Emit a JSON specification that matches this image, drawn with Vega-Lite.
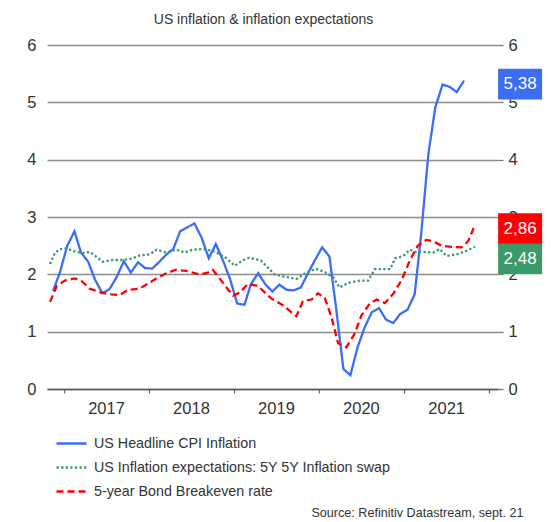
{
  "$schema": "https://vega.github.io/schema/vega-lite/v6.json",
  "width": 451,
  "height": 344,
  "autosize": {"type": "none"},
  "padding": {"left": 47, "top": 45, "right": 62, "bottom": 133},
  "background": "white",
  "config": {"view": {"stroke": null}},
  "title": {
    "text": "US inflation & inflation expectations",
    "font": "Liberation Sans",
    "fontSize": 14,
    "fontWeight": "normal",
    "color": "#333333",
    "anchor": "middle",
    "frame": "group",
    "offset": 10,
    "dx": -9
  },
  "datasets": {
    "series": [
      {"series": "US Headline CPI Inflation", "date": "2016-11-15", "value": 1.71},
      {"series": "US Headline CPI Inflation", "date": "2016-12-15", "value": 2.04},
      {"series": "US Headline CPI Inflation", "date": "2017-01-15", "value": 2.50},
      {"series": "US Headline CPI Inflation", "date": "2017-02-15", "value": 2.75},
      {"series": "US Headline CPI Inflation", "date": "2017-03-15", "value": 2.38},
      {"series": "US Headline CPI Inflation", "date": "2017-04-15", "value": 2.22},
      {"series": "US Headline CPI Inflation", "date": "2017-05-15", "value": 1.90},
      {"series": "US Headline CPI Inflation", "date": "2017-06-15", "value": 1.67},
      {"series": "US Headline CPI Inflation", "date": "2017-07-15", "value": 1.74},
      {"series": "US Headline CPI Inflation", "date": "2017-08-15", "value": 1.95},
      {"series": "US Headline CPI Inflation", "date": "2017-09-15", "value": 2.23},
      {"series": "US Headline CPI Inflation", "date": "2017-10-15", "value": 2.03},
      {"series": "US Headline CPI Inflation", "date": "2017-11-15", "value": 2.21},
      {"series": "US Headline CPI Inflation", "date": "2017-12-15", "value": 2.11},
      {"series": "US Headline CPI Inflation", "date": "2018-01-15", "value": 2.10},
      {"series": "US Headline CPI Inflation", "date": "2018-02-15", "value": 2.22},
      {"series": "US Headline CPI Inflation", "date": "2018-03-15", "value": 2.34},
      {"series": "US Headline CPI Inflation", "date": "2018-04-15", "value": 2.44},
      {"series": "US Headline CPI Inflation", "date": "2018-05-15", "value": 2.75},
      {"series": "US Headline CPI Inflation", "date": "2018-06-15", "value": 2.82},
      {"series": "US Headline CPI Inflation", "date": "2018-07-15", "value": 2.89},
      {"series": "US Headline CPI Inflation", "date": "2018-08-15", "value": 2.64},
      {"series": "US Headline CPI Inflation", "date": "2018-09-15", "value": 2.28},
      {"series": "US Headline CPI Inflation", "date": "2018-10-15", "value": 2.53},
      {"series": "US Headline CPI Inflation", "date": "2018-11-15", "value": 2.24},
      {"series": "US Headline CPI Inflation", "date": "2018-12-15", "value": 1.92},
      {"series": "US Headline CPI Inflation", "date": "2019-01-15", "value": 1.49},
      {"series": "US Headline CPI Inflation", "date": "2019-02-15", "value": 1.47},
      {"series": "US Headline CPI Inflation", "date": "2019-03-15", "value": 1.83},
      {"series": "US Headline CPI Inflation", "date": "2019-04-15", "value": 2.02},
      {"series": "US Headline CPI Inflation", "date": "2019-05-15", "value": 1.83},
      {"series": "US Headline CPI Inflation", "date": "2019-06-15", "value": 1.70},
      {"series": "US Headline CPI Inflation", "date": "2019-07-15", "value": 1.82},
      {"series": "US Headline CPI Inflation", "date": "2019-08-15", "value": 1.73},
      {"series": "US Headline CPI Inflation", "date": "2019-09-15", "value": 1.72},
      {"series": "US Headline CPI Inflation", "date": "2019-10-15", "value": 1.77},
      {"series": "US Headline CPI Inflation", "date": "2019-11-15", "value": 2.02},
      {"series": "US Headline CPI Inflation", "date": "2019-12-15", "value": 2.25},
      {"series": "US Headline CPI Inflation", "date": "2020-01-15", "value": 2.47},
      {"series": "US Headline CPI Inflation", "date": "2020-02-15", "value": 2.31},
      {"series": "US Headline CPI Inflation", "date": "2020-03-15", "value": 1.40},
      {"series": "US Headline CPI Inflation", "date": "2020-04-15", "value": 0.35},
      {"series": "US Headline CPI Inflation", "date": "2020-05-15", "value": 0.24},
      {"series": "US Headline CPI Inflation", "date": "2020-06-15", "value": 0.73},
      {"series": "US Headline CPI Inflation", "date": "2020-07-15", "value": 1.07},
      {"series": "US Headline CPI Inflation", "date": "2020-08-15", "value": 1.34},
      {"series": "US Headline CPI Inflation", "date": "2020-09-15", "value": 1.41},
      {"series": "US Headline CPI Inflation", "date": "2020-10-15", "value": 1.21},
      {"series": "US Headline CPI Inflation", "date": "2020-11-15", "value": 1.15},
      {"series": "US Headline CPI Inflation", "date": "2020-12-15", "value": 1.31},
      {"series": "US Headline CPI Inflation", "date": "2021-01-15", "value": 1.38},
      {"series": "US Headline CPI Inflation", "date": "2021-02-15", "value": 1.65},
      {"series": "US Headline CPI Inflation", "date": "2021-03-15", "value": 2.70},
      {"series": "US Headline CPI Inflation", "date": "2021-04-15", "value": 4.10},
      {"series": "US Headline CPI Inflation", "date": "2021-05-15", "value": 4.92},
      {"series": "US Headline CPI Inflation", "date": "2021-06-15", "value": 5.31},
      {"series": "US Headline CPI Inflation", "date": "2021-07-15", "value": 5.27},
      {"series": "US Headline CPI Inflation", "date": "2021-08-15", "value": 5.18},
      {"series": "US Headline CPI Inflation", "date": "2021-09-15", "value": 5.38},

      {"series": "US Inflation expectations: 5Y 5Y Inflation swap", "date": "2016-11-02", "value": 2.18},
      {"series": "US Inflation expectations: 5Y 5Y Inflation swap", "date": "2016-11-23", "value": 2.37},
      {"series": "US Inflation expectations: 5Y 5Y Inflation swap", "date": "2016-12-14", "value": 2.44},
      {"series": "US Inflation expectations: 5Y 5Y Inflation swap", "date": "2017-01-12", "value": 2.45},
      {"series": "US Inflation expectations: 5Y 5Y Inflation swap", "date": "2017-02-24", "value": 2.39},
      {"series": "US Inflation expectations: 5Y 5Y Inflation swap", "date": "2017-03-23", "value": 2.37},
      {"series": "US Inflation expectations: 5Y 5Y Inflation swap", "date": "2017-04-21", "value": 2.39},
      {"series": "US Inflation expectations: 5Y 5Y Inflation swap", "date": "2017-05-19", "value": 2.31},
      {"series": "US Inflation expectations: 5Y 5Y Inflation swap", "date": "2017-06-17", "value": 2.22},
      {"series": "US Inflation expectations: 5Y 5Y Inflation swap", "date": "2017-07-30", "value": 2.25},
      {"series": "US Inflation expectations: 5Y 5Y Inflation swap", "date": "2017-09-12", "value": 2.25},
      {"series": "US Inflation expectations: 5Y 5Y Inflation swap", "date": "2017-10-24", "value": 2.28},
      {"series": "US Inflation expectations: 5Y 5Y Inflation swap", "date": "2017-11-22", "value": 2.33},
      {"series": "US Inflation expectations: 5Y 5Y Inflation swap", "date": "2018-01-05", "value": 2.35},
      {"series": "US Inflation expectations: 5Y 5Y Inflation swap", "date": "2018-02-03", "value": 2.43},
      {"series": "US Inflation expectations: 5Y 5Y Inflation swap", "date": "2018-03-16", "value": 2.38},
      {"series": "US Inflation expectations: 5Y 5Y Inflation swap", "date": "2018-04-28", "value": 2.43},
      {"series": "US Inflation expectations: 5Y 5Y Inflation swap", "date": "2018-06-03", "value": 2.38},
      {"series": "US Inflation expectations: 5Y 5Y Inflation swap", "date": "2018-07-08", "value": 2.43},
      {"series": "US Inflation expectations: 5Y 5Y Inflation swap", "date": "2018-08-21", "value": 2.44},
      {"series": "US Inflation expectations: 5Y 5Y Inflation swap", "date": "2018-10-02", "value": 2.41},
      {"series": "US Inflation expectations: 5Y 5Y Inflation swap", "date": "2018-10-31", "value": 2.35},
      {"series": "US Inflation expectations: 5Y 5Y Inflation swap", "date": "2018-11-30", "value": 2.28},
      {"series": "US Inflation expectations: 5Y 5Y Inflation swap", "date": "2019-01-05", "value": 2.15},
      {"series": "US Inflation expectations: 5Y 5Y Inflation swap", "date": "2019-02-10", "value": 2.25},
      {"series": "US Inflation expectations: 5Y 5Y Inflation swap", "date": "2019-03-08", "value": 2.29},
      {"series": "US Inflation expectations: 5Y 5Y Inflation swap", "date": "2019-04-27", "value": 2.24},
      {"series": "US Inflation expectations: 5Y 5Y Inflation swap", "date": "2019-06-24", "value": 2.00},
      {"series": "US Inflation expectations: 5Y 5Y Inflation swap", "date": "2019-08-06", "value": 1.96},
      {"series": "US Inflation expectations: 5Y 5Y Inflation swap", "date": "2019-09-26", "value": 1.92},
      {"series": "US Inflation expectations: 5Y 5Y Inflation swap", "date": "2019-11-01", "value": 2.01},
      {"series": "US Inflation expectations: 5Y 5Y Inflation swap", "date": "2019-12-19", "value": 2.10},
      {"series": "US Inflation expectations: 5Y 5Y Inflation swap", "date": "2020-01-26", "value": 2.04},
      {"series": "US Inflation expectations: 5Y 5Y Inflation swap", "date": "2020-03-01", "value": 1.95},
      {"series": "US Inflation expectations: 5Y 5Y Inflation swap", "date": "2020-03-30", "value": 1.77},
      {"series": "US Inflation expectations: 5Y 5Y Inflation swap", "date": "2020-05-05", "value": 1.85},
      {"series": "US Inflation expectations: 5Y 5Y Inflation swap", "date": "2020-06-24", "value": 1.89},
      {"series": "US Inflation expectations: 5Y 5Y Inflation swap", "date": "2020-07-30", "value": 1.89},
      {"series": "US Inflation expectations: 5Y 5Y Inflation swap", "date": "2020-08-28", "value": 2.09},
      {"series": "US Inflation expectations: 5Y 5Y Inflation swap", "date": "2020-11-02", "value": 2.09},
      {"series": "US Inflation expectations: 5Y 5Y Inflation swap", "date": "2020-11-23", "value": 2.28},
      {"series": "US Inflation expectations: 5Y 5Y Inflation swap", "date": "2020-12-28", "value": 2.32},
      {"series": "US Inflation expectations: 5Y 5Y Inflation swap", "date": "2021-01-26", "value": 2.43},
      {"series": "US Inflation expectations: 5Y 5Y Inflation swap", "date": "2021-02-17", "value": 2.39},
      {"series": "US Inflation expectations: 5Y 5Y Inflation swap", "date": "2021-03-23", "value": 2.39},
      {"series": "US Inflation expectations: 5Y 5Y Inflation swap", "date": "2021-05-05", "value": 2.38},
      {"series": "US Inflation expectations: 5Y 5Y Inflation swap", "date": "2021-06-03", "value": 2.44},
      {"series": "US Inflation expectations: 5Y 5Y Inflation swap", "date": "2021-07-02", "value": 2.32},
      {"series": "US Inflation expectations: 5Y 5Y Inflation swap", "date": "2021-08-14", "value": 2.35},
      {"series": "US Inflation expectations: 5Y 5Y Inflation swap", "date": "2021-09-26", "value": 2.41},
      {"series": "US Inflation expectations: 5Y 5Y Inflation swap", "date": "2021-11-01", "value": 2.48},

      {"series": "5-year Bond Breakeven rate", "date": "2016-11-02", "value": 1.52},
      {"series": "5-year Bond Breakeven rate", "date": "2016-12-01", "value": 1.80},
      {"series": "5-year Bond Breakeven rate", "date": "2017-01-05", "value": 1.89},
      {"series": "5-year Bond Breakeven rate", "date": "2017-02-17", "value": 1.93},
      {"series": "5-year Bond Breakeven rate", "date": "2017-03-16", "value": 1.89},
      {"series": "5-year Bond Breakeven rate", "date": "2017-04-21", "value": 1.75},
      {"series": "5-year Bond Breakeven rate", "date": "2017-06-10", "value": 1.68},
      {"series": "5-year Bond Breakeven rate", "date": "2017-07-23", "value": 1.65},
      {"series": "5-year Bond Breakeven rate", "date": "2017-08-28", "value": 1.64},
      {"series": "5-year Bond Breakeven rate", "date": "2017-10-03", "value": 1.73},
      {"series": "5-year Bond Breakeven rate", "date": "2017-11-22", "value": 1.75},
      {"series": "5-year Bond Breakeven rate", "date": "2018-01-05", "value": 1.86},
      {"series": "5-year Bond Breakeven rate", "date": "2018-02-03", "value": 1.93},
      {"series": "5-year Bond Breakeven rate", "date": "2018-03-16", "value": 2.02},
      {"series": "5-year Bond Breakeven rate", "date": "2018-04-28", "value": 2.08},
      {"series": "5-year Bond Breakeven rate", "date": "2018-06-10", "value": 2.06},
      {"series": "5-year Bond Breakeven rate", "date": "2018-07-08", "value": 2.03},
      {"series": "5-year Bond Breakeven rate", "date": "2018-08-06", "value": 2.00},
      {"series": "5-year Bond Breakeven rate", "date": "2018-09-11", "value": 2.03},
      {"series": "5-year Bond Breakeven rate", "date": "2018-10-02", "value": 2.08},
      {"series": "5-year Bond Breakeven rate", "date": "2018-10-31", "value": 1.93},
      {"series": "5-year Bond Breakeven rate", "date": "2018-11-30", "value": 1.77},
      {"series": "5-year Bond Breakeven rate", "date": "2018-12-28", "value": 1.63},
      {"series": "5-year Bond Breakeven rate", "date": "2019-01-26", "value": 1.68},
      {"series": "5-year Bond Breakeven rate", "date": "2019-03-01", "value": 1.83},
      {"series": "5-year Bond Breakeven rate", "date": "2019-04-13", "value": 1.80},
      {"series": "5-year Bond Breakeven rate", "date": "2019-06-10", "value": 1.58},
      {"series": "5-year Bond Breakeven rate", "date": "2019-07-30", "value": 1.46},
      {"series": "5-year Bond Breakeven rate", "date": "2019-09-26", "value": 1.27},
      {"series": "5-year Bond Breakeven rate", "date": "2019-10-24", "value": 1.53},
      {"series": "5-year Bond Breakeven rate", "date": "2019-11-30", "value": 1.56},
      {"series": "5-year Bond Breakeven rate", "date": "2019-12-28", "value": 1.67},
      {"series": "5-year Bond Breakeven rate", "date": "2020-01-26", "value": 1.59},
      {"series": "5-year Bond Breakeven rate", "date": "2020-02-24", "value": 1.25},
      {"series": "5-year Bond Breakeven rate", "date": "2020-03-23", "value": 0.80},
      {"series": "5-year Bond Breakeven rate", "date": "2020-04-28", "value": 0.73},
      {"series": "5-year Bond Breakeven rate", "date": "2020-06-03", "value": 0.97},
      {"series": "5-year Bond Breakeven rate", "date": "2020-07-01", "value": 1.28},
      {"series": "5-year Bond Breakeven rate", "date": "2020-08-06", "value": 1.49},
      {"series": "5-year Bond Breakeven rate", "date": "2020-09-05", "value": 1.56},
      {"series": "5-year Bond Breakeven rate", "date": "2020-10-10", "value": 1.50},
      {"series": "5-year Bond Breakeven rate", "date": "2020-11-15", "value": 1.66},
      {"series": "5-year Bond Breakeven rate", "date": "2020-12-21", "value": 1.90},
      {"series": "5-year Bond Breakeven rate", "date": "2021-01-26", "value": 2.25},
      {"series": "5-year Bond Breakeven rate", "date": "2021-03-01", "value": 2.50},
      {"series": "5-year Bond Breakeven rate", "date": "2021-04-06", "value": 2.60},
      {"series": "5-year Bond Breakeven rate", "date": "2021-05-05", "value": 2.58},
      {"series": "5-year Bond Breakeven rate", "date": "2021-06-10", "value": 2.50},
      {"series": "5-year Bond Breakeven rate", "date": "2021-07-23", "value": 2.48},
      {"series": "5-year Bond Breakeven rate", "date": "2021-09-05", "value": 2.47},
      {"series": "5-year Bond Breakeven rate", "date": "2021-10-03", "value": 2.58},
      {"series": "5-year Bond Breakeven rate", "date": "2021-11-01", "value": 2.86}
    ],
    "labels": [
      {"series": "US Headline CPI Inflation", "value": 5.38, "label": "5,38"},
      {"series": "5-year Bond Breakeven rate", "value": 2.86, "label": "2,86"},
      {"series": "US Inflation expectations: 5Y 5Y Inflation swap", "value": 2.48, "label": "2,48"}
    ]
  },
  "layer": [
    {
      "data": {"name": "series"},
      "mark": {"type": "line", "strokeWidth": 2.3, "strokeCap": "butt"},
      "encoding": {
        "x": {
          "field": "date",
          "type": "temporal",
          "scale": {"domain": [{"year": 2016, "month": 10, "date": 20}, {"year": 2022, "month": 2, "date": 8}], "nice": false},
          "axis": {
            "values": [
              {"year": 2017, "month": 1, "date": 1},
              {"year": 2018, "month": 1, "date": 1},
              {"year": 2019, "month": 1, "date": 1},
              {"year": 2020, "month": 1, "date": 1},
              {"year": 2021, "month": 1, "date": 1},
              {"year": 2022, "month": 1, "date": 1}
            ],
            "labelExpr": "year(datum.value) < 2022 ? timeFormat(datum.value, '%Y') : ''",
            "labelOffset": 42,
            "labelFont": "Liberation Sans",
            "labelFontSize": 16.5,
            "labelColor": "#333333",
            "labelPadding": 7,
            "labelFlush": false,
            "labelOverlap": false,
            "grid": false,
            "domain": true,
            "domainColor": "#555555",
            "domainWidth": 1.5,
            "ticks": true,
            "tickColor": "#666666",
            "tickSize": 4,
            "tickWidth": 1.2,
            "title": "Source: Refinitiv Datastream, sept. 21",
            "titleFont": "Liberation Sans",
            "titleFontSize": 12.6,
            "titleFontWeight": "normal",
            "titleColor": "#333333",
            "titleAlign": "right",
            "titleAnchor": null,
            "titleBaseline": "middle",
            "titleX": 476,
            "titleY": 123
          }
        },
        "y": {
          "field": "value",
          "type": "quantitative",
          "scale": {"domain": [0, 6], "nice": false},
          "axis": {
            "values": [0, 1, 2, 3, 4, 5, 6],
            "format": "d",
            "labelFont": "Liberation Sans",
            "labelFontSize": 16.5,
            "labelColor": "#333333",
            "labelPadding": 11,
            "ticks": false,
            "domain": false,
            "grid": true,
            "gridColor": "#8c8c8c",
            "gridWidth": 1.3,
            "title": null
          }
        },
        "color": {
          "field": "series",
          "type": "nominal",
          "scale": {
            "domain": ["US Headline CPI Inflation", "US Inflation expectations: 5Y 5Y Inflation swap", "5-year Bond Breakeven rate"],
            "range": ["#3b6ef5", "#3a9a68", "#ff0000"]
          },
          "legend": {
            "title": null,
            "orient": "none",
            "legendX": 8,
            "legendY": 382,
            "direction": "vertical",
            "padding": 0,
            "symbolType": "stroke",
            "symbolSize": 900,
            "symbolStrokeWidth": 2.3,
            "labelFont": "Liberation Sans",
            "labelFontSize": 14.3,
            "labelColor": "#333333",
            "labelOffset": 6,
            "labelLimit": 400,
            "rowPadding": -9
          }
        },
        "strokeDash": {
          "field": "series",
          "type": "nominal",
          "scale": {
            "domain": ["US Headline CPI Inflation", "US Inflation expectations: 5Y 5Y Inflation swap", "5-year Bond Breakeven rate"],
            "range": [[1, 0], [2.3, 2.3], [7, 4]]
          },
          "legend": {
            "title": null,
            "orient": "none",
            "legendX": 8,
            "legendY": 382,
            "direction": "vertical",
            "padding": 0,
            "symbolType": "stroke",
            "symbolSize": 900,
            "symbolStrokeWidth": 2.3,
            "labelFont": "Liberation Sans",
            "labelFontSize": 14.3,
            "labelColor": "#333333",
            "labelOffset": 6,
            "labelLimit": 400,
            "rowPadding": -9
          }
        }
      }
    },
    {
      "data": {"name": "labels"},
      "encoding": {
        "x": {"datum": {"year": 2022, "month": 5, "date": 14}, "type": "temporal"},
        "y": {
          "field": "value",
          "type": "quantitative",
          "scale": {"domain": [0, 6], "nice": false},
          "axis": {
            "orient": "right",
            "values": [0, 1, 2, 3, 4, 5, 6],
            "format": "d",
            "labelFont": "Liberation Sans",
            "labelFontSize": 16.5,
            "labelColor": "#333333",
            "labelPadding": 5,
            "ticks": true,
            "tickSize": 5,
            "tickColor": "#777777",
            "tickWidth": 1.3,
            "domain": false,
            "grid": false,
            "title": null
          }
        }
      },
      "layer": [
        {
          "transform": [{"filter": {"not": {"field": "series", "equal": "US Inflation expectations: 5Y 5Y Inflation swap"}}}],
          "mark": {"type": "point", "shape": "M-1,-0.7L1,-0.7L1,0.7L-1,0.7Z", "size": 1936, "filled": true, "opacity": 1, "strokeWidth": 0, "yOffset": 3.5},
          "encoding": {"color": {"field": "series", "type": "nominal", "legend": null}}
        },
        {
          "transform": [{"filter": {"field": "series", "equal": "US Inflation expectations: 5Y 5Y Inflation swap"}}],
          "mark": {"type": "point", "shape": "M-1,-0.7L1,-0.7L1,0.7L-1,0.7Z", "size": 1936, "filled": true, "opacity": 1, "strokeWidth": 0, "yOffset": 12},
          "encoding": {"color": {"field": "series", "type": "nominal", "legend": null}}
        },
        {
          "transform": [{"filter": {"not": {"field": "series", "equal": "US Inflation expectations: 5Y 5Y Inflation swap"}}}],
          "mark": {"type": "text", "color": "white", "font": "Liberation Sans", "fontSize": 17, "align": "center", "baseline": "middle", "dy": 3.5},
          "encoding": {"text": {"field": "label"}}
        },
        {
          "transform": [{"filter": {"field": "series", "equal": "US Inflation expectations: 5Y 5Y Inflation swap"}}],
          "mark": {"type": "text", "color": "white", "font": "Liberation Sans", "fontSize": 17, "align": "center", "baseline": "middle", "dy": 12},
          "encoding": {"text": {"field": "label"}}
        }
      ]
    }
  ],
  "resolve": {"axis": {"y": "independent"}}
}
